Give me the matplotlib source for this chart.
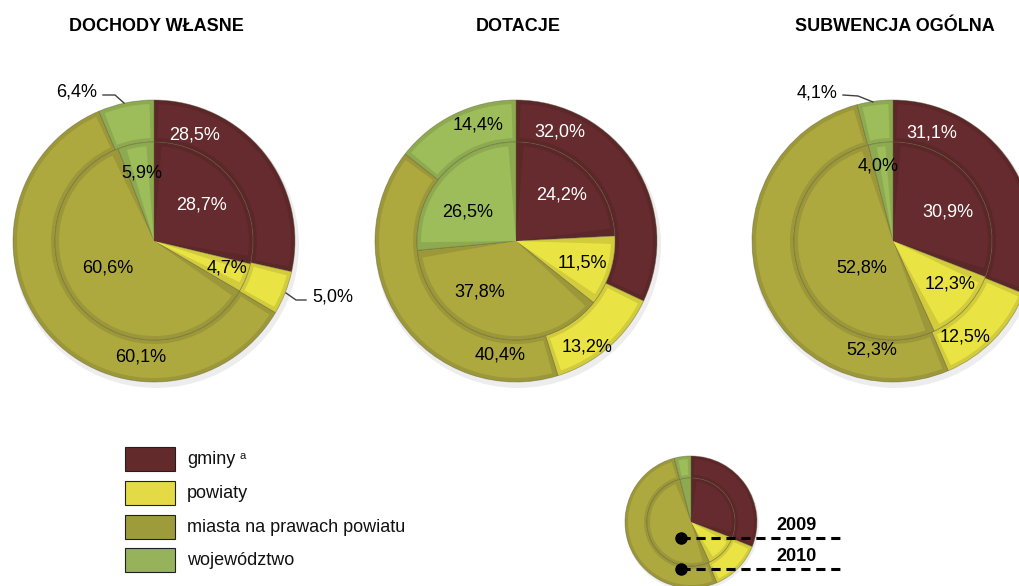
import matplotlib
matplotlib.use("Agg")
import matplotlib.pyplot as plt
from matplotlib.patches import Wedge, Rectangle
import matplotlib.colors as mcolors
import math

plt.rcParams['font.family'] = ['Liberation Sans', 'DejaVu Sans']

# ---------------- data ----------------
categories = ['gminy', 'powiaty', 'miasta na prawach powiatu', 'województwo']
titles = ['DOCHODY WŁASNE', 'DOTACJE', 'SUBWENCJA OGÓLNA']

# outer ring = 2010, inner pie = 2009
dochody_2010 = [28.5, 5.0, 60.1, 6.4]
dochody_2009 = [28.7, 4.7, 60.6, 5.9]
dotacje_2010 = [32.0, 13.2, 40.4, 14.4]
dotacje_2009 = [24.2, 11.5, 37.8, 26.5]
subwencja_2010 = [31.1, 12.5, 52.3, 4.1]
subwencja_2009 = [30.9, 12.3, 52.8, 4.0]

years = ['2009', '2010']

# ---------------- styles / layout ----------------
colors = ['#662B2E', '#E9E344', '#ADA93F', '#9DBD5A']
legend_colors = ['#632A2C', '#E3DA45', '#9E9C3A', '#96B25A']
text_colors = ['white', 'black', 'black', 'black']

W, H = 1020, 586
centers = [(154, 241), (516, 241), (893, 241)]
R_OUT, R_IN = 141, 99

# label positions (pixels) for each chart: outer labels, inner labels
outer_label_pos = [
    [(195, 135), (333, 297), (141, 357), (77, 92)],
    [(560, 132), (587, 347), (500, 355), (478, 125)],
    [(932, 133), (965, 337), (872, 350), (817, 93)],
]
inner_label_pos = [
    [(202, 205), (227, 268), (108, 268), (142, 173)],
    [(562, 195), (582, 263), (480, 292), (468, 212)],
    [(948, 212), (950, 284), (862, 268), (878, 166)],
]
# leader lines for labels placed outside the pie (chart idx, category idx, polyline)
leaders = [
    (0, 1, [(286, 293), (296, 300), (306, 300)]),
    (0, 3, [(103, 95), (115, 95), (124, 103)]),
    (2, 3, [(843, 95), (858, 96), (873, 102)]),
]
outside_text_color = 'black'

fig = plt.figure(figsize=(W / 100, H / 100), dpi=100)
ax = fig.add_axes([0, 0, 1, 1])


def shade(c, f):
    r, g, b = mcolors.to_rgb(c)
    return (r * f, g * f, b * f)


def bevel(wedges, inset):
    for w, c in zip(wedges, colors):
        r = w.r
        width = w.width if w.width is not None else r
        r_mid = r - width / 2.0
        dtheta = math.degrees(inset / max(r_mid, 1))
        t1, t2 = w.theta1 + dtheta, w.theta2 - dtheta
        if t2 <= t1:
            continue
        if w.width is None:
            inner = Wedge(w.center, r - inset, t1, t2,
                          facecolor=c, edgecolor='none', zorder=w.get_zorder() + 0.1)
        else:
            inner = Wedge(w.center, r - inset, t1, t2, width=width - 2 * inset,
                          facecolor=c, edgecolor='none', zorder=w.get_zorder() + 0.1)
        ax.add_patch(inner)


def draw_donut(center, r_out, r_in, outer_vals, inner_vals, inset, z):
    edge = (0.35, 0.35, 0.2, 0.45)
    wo, _ = ax.pie(outer_vals, colors=[shade(c, 0.9) for c in colors], radius=r_out,
                   center=center, startangle=-90, counterclock=True,
                   wedgeprops=dict(width=r_out - r_in, edgecolor=edge, linewidth=0.6))
    wi, _ = ax.pie(inner_vals, colors=[shade(c, 0.9) for c in colors], radius=r_in,
                   center=center, startangle=-90, counterclock=True,
                   wedgeprops=dict(edgecolor=edge, linewidth=0.6))
    for w in wo:
        w.set_zorder(z)
    for w in wi:
        w.set_zorder(z + 1)
    bevel(wo, inset)
    bevel(wi, inset)
    return wo, wi


charts = [(dochody_2010, dochody_2009), (dotacje_2010, dotacje_2009),
          (subwencja_2010, subwencja_2009)]

for k, ((outer, inner), ctr, title) in enumerate(zip(charts, centers, titles)):
    # soft shadow
    ax.add_patch(plt.Circle((ctr[0] + 2, ctr[1] + 4), R_OUT + 2, color='#000000',
                            alpha=0.07, zorder=1, lw=0))
    draw_donut(ctr, R_OUT, R_IN, outer, inner, 4, 2)
    ax.text(ctr[0] + 2, 26, title, ha='center', va='center', fontsize=13,
            fontweight='bold', color='black', zorder=10)
    outside = {ci for (cj, ci, _) in leaders if cj == k}
    for i, (val, pos) in enumerate(zip(outer, outer_label_pos[k])):
        col = outside_text_color if i in outside else text_colors[i]
        ax.text(pos[0], pos[1], f'{val:.1f}%'.replace('.', ','), ha='center',
                va='center', fontsize=13, color=col, zorder=10)
    for i, (val, pos) in enumerate(zip(inner, inner_label_pos[k])):
        ax.text(pos[0], pos[1], f'{val:.1f}%'.replace('.', ','), ha='center',
                va='center', fontsize=13, color=text_colors[i], zorder=10)

for (k, i, pts) in leaders:
    xs, ys = zip(*pts)
    ax.plot(xs, ys, color='#404040', lw=1.0, zorder=10)

# ---------------- legend (categories) ----------------
box_y = [447, 481, 515, 548]
for lab, c, y in zip(categories, legend_colors, box_y):
    ax.add_patch(Rectangle((125, y), 50, 24, facecolor=c, edgecolor='#202020',
                           lw=0.8, zorder=5))
    ax.text(187, y + 13, lab, ha='left', va='center', fontsize=13, color='#111111')
ax.text(240, 456, 'a', ha='left', va='center', fontsize=8, color='#111111')

# ---------------- legend (years mini pie) ----------------
lctr = (691, 522)
ax.add_patch(plt.Circle((lctr[0] + 1, lctr[1] + 2), 67, color='#000000', alpha=0.07,
                        zorder=1, lw=0))
draw_donut(lctr, 66, 44, subwencja_2010, subwencja_2009, 3, 2)
year_y = [538, 569]
for yr, y in zip(years, year_y):
    ax.plot([681, 840], [y, y], color='black', lw=2.2, ls=(0, (3, 1.9)), zorder=12,
            dash_capstyle='butt')
    ax.plot([681], [y], 'o', color='black', ms=8, zorder=13)
    ax.text(797, y - 12, yr, ha='center', va='center', fontsize=13,
            fontweight='bold', color='black', zorder=13)

ax.set_xlim(0, W)
ax.set_ylim(H, 0)
ax.set_aspect('equal')
ax.axis('off')
fig.savefig('out.png', dpi=100)
